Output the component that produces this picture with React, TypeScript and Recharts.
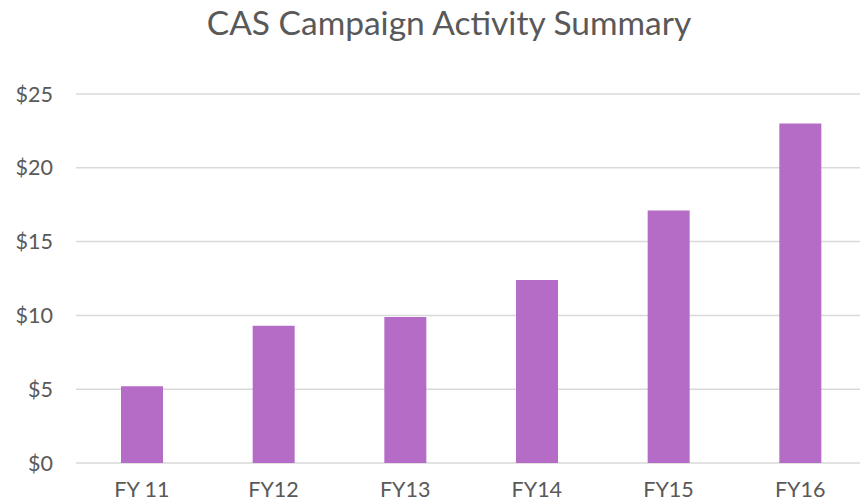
import React from 'react';
import { BarChart, Bar, XAxis, YAxis, CartesianGrid } from 'recharts';

const categories = ['FY 11', 'FY12', 'FY13', 'FY14', 'FY15', 'FY16'];
const amounts = [5.2, 9.3, 9.9, 12.4, 17.1, 23.0];
const yTicks = [0, 5, 10, 15, 20, 25];
const title = 'CAS Campaign Activity Summary';

const data = categories.map((c, i) => ({ name: c, value: amounts[i] }));

const FONT = 'Lato, "Open Sans", sans-serif';
const TEXT = '#595959';

export default function App() {
  return (
    <div
      style={{
        position: 'fixed',
        left: 0,
        top: 0,
        width: 860,
        height: 504,
        overflow: 'hidden',
        background: '#ffffff',
        fontFamily: FONT,
      }}
    >
      <div
        style={{
          position: 'absolute',
          left: 0,
          top: 2,
          width: 898,
          textAlign: 'center',
          fontSize: 33.5,
          lineHeight: '40px',
          color: TEXT,
          fontFamily: FONT,
          whiteSpace: 'nowrap',
        }}
      >
        {title}
      </div>
      <div style={{ position: 'absolute', left: 0, top: 0 }}>
        <BarChart
          width={870}
          height={504}
          data={data}
          margin={{ top: 94, right: 4, bottom: 0, left: 0 }}
        >
          <CartesianGrid vertical={false} stroke="#d9d9d9" strokeWidth={1.5} />
          <XAxis
            dataKey="name"
            axisLine={false}
            tickLine={false}
            tickSize={0}
            tickMargin={19}
            height={41}
            interval={0}
            tick={{ fill: TEXT, fontSize: 21.5, fontFamily: FONT }}
          />
          <YAxis
            domain={[0, 25]}
            ticks={yTicks}
            axisLine={false}
            tickLine={false}
            tickSize={0}
            tickMargin={23}
            width={76}
            tickFormatter={(v: number) => `$${v}`}
            tick={{ fill: TEXT, fontSize: 21.5, fontFamily: FONT }}
          />
          <Bar dataKey="value" fill="#B46CC6" barSize={42} isAnimationActive={false} />
        </BarChart>
      </div>
    </div>
  );
}
